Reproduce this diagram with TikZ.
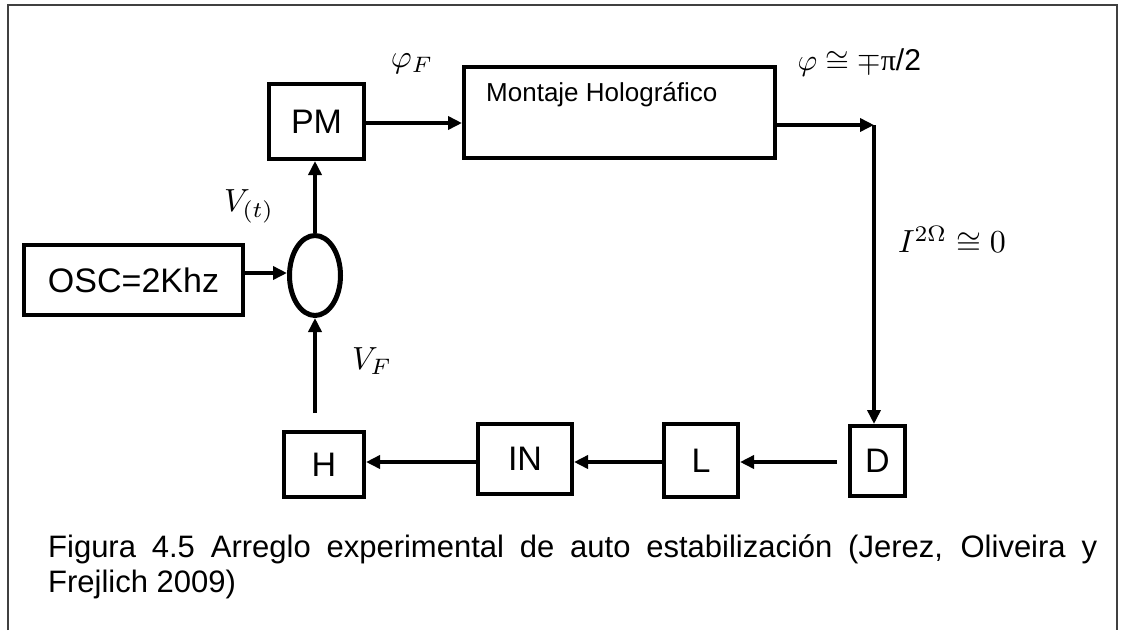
\documentclass[tikz,border=0pt]{standalone}
\usepackage{fontspec}
\setmainfont{Liberation Sans}
\newfontfamily\serifpi{Liberation Serif}
\usetikzlibrary{arrows.meta, shapes.geometric}

\begin{document}
\begin{tikzpicture}[
  x=1pt, y=-1pt,
  every node/.style={inner sep=1pt},
  block/.style={draw, line width=4pt, font=\fontsize{34}{40}\selectfont},
  summer/.style={ellipse, draw, line width=5pt, minimum width=51pt, minimum height=80pt, inner sep=0pt},
  arrow/.style={draw, line width=3.5pt, -{Triangle[length=14pt, width=13pt]}},
  % the math fonts only come in fixed sizes up to 24.88pt, so the signal
  % labels are set at 10pt and scaled up to the reference's size
  sig/.style={scale=3.2, inner sep=0pt},
  frame/.style={draw=black!75, line width=1.5pt}]

  \useasboundingbox (0,0) rectangle (1122,630);

  % ---- the open frame round the figure -------------------------------------
  \draw[frame] (8,630) -- (8,5) -- (1117,5) -- (1117,630);

  % ---- the forward branch: oscillator, summer, modulator, set-up ----------
  \node[block, minimum width=219pt, minimum height=70pt] (osc) at (133.5,280) {OSC=2Khz};
  \node[summer] (sum) at (315,275.5) {};
  \node[block, minimum width=95pt, minimum height=75pt] (pm) at (316.5,121.5) {PM};
  \node[block, minimum width=311pt, minimum height=91pt] (mont) at (619.5,112.5) {};
  \node[anchor=west, font=\fontsize{26}{31}\selectfont] (montlbl) at (485,95) {Montaje Holográfico};
  \coordinate (corner) at (874,125);

  % ---- the feedback branch, read from right to left -----------------------
  \node[block, minimum width=55pt, minimum height=70pt] (d) at (877.5,461) {D};
  \node[block, minimum width=74pt, minimum height=73pt] (l) at (701,460.5) {L};
  \node[block, minimum width=94pt, minimum height=70pt] (in) at (525,459) {IN};
  \node[block, minimum width=80pt, minimum height=65pt] (h) at (324,464.5) {H};

  % ---- connectors -----------------------------------------------------------
  \draw[arrow] (osc.east |- 0,273) -- (sum.west |- 0,273);
  \draw[arrow] (sum.north) -- (pm.south -| sum.north);
  \draw[arrow] (pm.east |- 0,123) -- (mont.west |- 0,123);
  \draw[arrow] (mont.east |- corner) -- (corner);
  \draw[arrow] (corner) -- (corner |- d.north);
  \draw[arrow, shorten <=11pt] (d.west |- 0,462) -- (l.east |- 0,462);
  \draw[arrow] (l.west |- 0,462) -- (in.east |- 0,462);
  \draw[arrow] (in.west |- 0,462) -- (h.east |- 0,462);
  \draw[arrow, shorten <=17pt] (sum.south |- h.north) -- (sum.south);

  % ---- signal labels --------------------------------------------------------
  \node[sig] (phif) at (412,64) {$\varphi_F$};
  \node[sig] (vt) at (249,206) {$V_{(t)}$};
  \node[sig] (vf) at (372,361) {$V_F$};
  \node[sig, scale=0.94, anchor=west] (phi) at (797,63) {$\varphi\cong\mp${\serifpi π}/2};
  \node[sig] (iom) at (952,240) {$I^{2\Omega}\cong 0$};

  % ---- caption --------------------------------------------------------------
  \node[anchor=base west, text width=1049pt, align=justify, inner sep=0pt,
        font=\fontsize{31}{35}\selectfont] (caption) at (48,557)
        {\tolerance=9999 Figura 4.5 Arreglo experimental de auto estabilización (Jerez, Oliveira y\linebreak Frejlich 2009)};
\end{tikzpicture}
\end{document}
